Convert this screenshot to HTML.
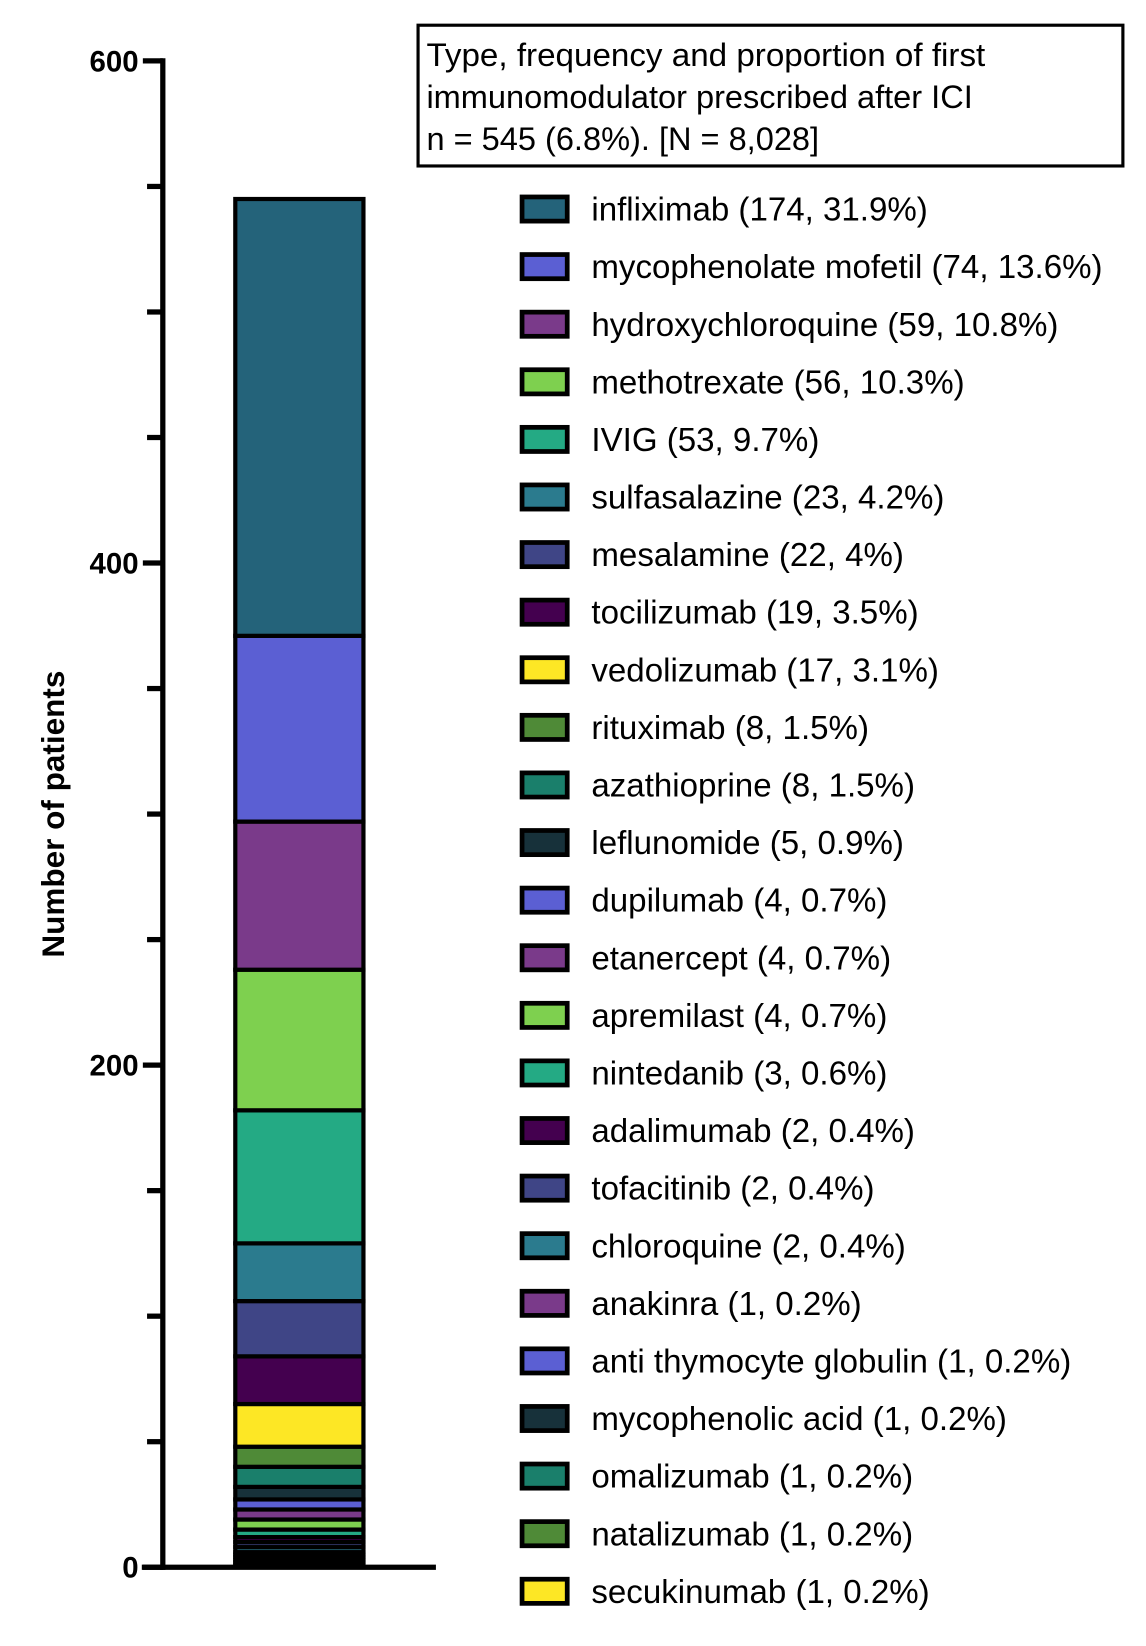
<!DOCTYPE html>
<html><head><meta charset="utf-8"><style>
html,body{margin:0;padding:0;background:#fff}
svg{display:block}
text{font-family:"Liberation Sans",Arial,sans-serif}
</style></head><body>
<svg id="chart" width="1146" height="1646" viewBox="0 0 1091 1567" xmlns="http://www.w3.org/2000/svg">
<g id="axis"></g>
<g id="bars"></g>
<text transform="translate(61,775) rotate(-90)" text-anchor="middle" font-size="30" font-weight="bold">Number of patients</text>
<g>
<rect x="398" y="24" width="671" height="134" fill="#fff" stroke="#000" stroke-width="3"/>
<text x="406" y="63" font-size="31" textLength="532" lengthAdjust="spacingAndGlyphs">Type, frequency and proportion of first</text>
<text x="406" y="103" font-size="31">immunomodulator prescribed after ICI</text>
<text x="406" y="143" font-size="31">n = 545 (6.8%). [N = 8,028]</text>
</g>
<g id="legend"></g>
</svg>
<script>
const names = ["infliximab","mycophenolate mofetil","hydroxychloroquine","methotrexate","IVIG","sulfasalazine","mesalamine","tocilizumab","vedolizumab","rituximab","azathioprine","leflunomide","dupilumab","etanercept","apremilast","nintedanib","adalimumab","tofacitinib","chloroquine","anakinra","anti thymocyte globulin","mycophenolic acid","omalizumab","natalizumab","secukinumab"];
const counts = [174,74,59,56,53,23,22,19,17,8,8,5,4,4,4,3,2,2,2,1,1,1,1,1,1];
const pctLabels = ["31.9%","13.6%","10.8%","10.3%","9.7%","4.2%","4%","3.5%","3.1%","1.5%","1.5%","0.9%","0.7%","0.7%","0.7%","0.6%","0.4%","0.4%","0.4%","0.2%","0.2%","0.2%","0.2%","0.2%","0.2%"];
const colors = ["#24637a","#5b5fd3","#7a3a8a","#7ed04f","#24aa84","#2b7b8e","#3f4586","#44004f","#fde725","#4f8a37","#1a7f6b","#17313a","#5b5fd3","#7a3a8a","#7ed04f","#24aa84","#44004f","#3f4586","#2b7b8e","#7a3a8a","#5b5fd3","#17313a","#1a7f6b","#4f8a37","#fde725"];
const yTicks = [0,200,400,600];
const yMinor = [50,100,150,250,300,350,450,500,550];

const NS="http://www.w3.org/2000/svg";
const y0=1492, y600=58;
const yScale=v=>y0-(v/600)*(y0-y600);
function mk(tag,attrs,parent){const e=document.createElementNS(NS,tag);for(const k in attrs)e.setAttribute(k,attrs[k]);parent.appendChild(e);return e;}

const axis=document.getElementById('axis');
mk('line',{x1:155,x2:155,y1:yScale(600)-2.5,y2:y0+2.5,stroke:'#000','stroke-width':5},axis);
mk('line',{x1:135,x2:415,y1:y0,y2:y0,stroke:'#000','stroke-width':5},axis);
yTicks.forEach(v=>{
  const t=mk('line',{x1:136,x2:155,y1:yScale(v),y2:yScale(v),stroke:'#000','stroke-width':5},axis);
  
  
  const l=mk('text',{x:132,y:yScale(v)+10,'text-anchor':'end','font-size':28,'font-weight':'bold'},axis);
  l.textContent=v;
  
  
});
yMinor.forEach(v=>{
  const t=mk('line',{x1:140,x2:155,y1:yScale(v),y2:yScale(v),stroke:'#000','stroke-width':5},axis);
  
  
});

const bars=document.getElementById('bars');
let cum=0;
for(let i=counts.length-1;i>=0;i--){
  const yb=yScale(cum), yt=yScale(cum+counts[i]);
  const r=mk('rect',{x:224,y:yt,width:122,height:Math.max(yb-yt,0.1),fill:colors[i],stroke:'#000','stroke-width':4},bars);
  
  
  cum+=counts[i];
}

const legend=document.getElementById('legend');
names.forEach((n,i)=>{
  const cy=199+i*54.83;
  const g=mk('g',{},legend);
  
  
  mk('rect',{x:497,y:cy-11.5,width:43,height:23,fill:colors[i],stroke:'#000','stroke-width':4.5},g);
  const t=mk('text',{x:563,y:cy+11,'font-size':31.5},g);
  t.textContent=n+' ('+counts[i]+', '+pctLabels[i]+')';
});
</script>
</body></html>
